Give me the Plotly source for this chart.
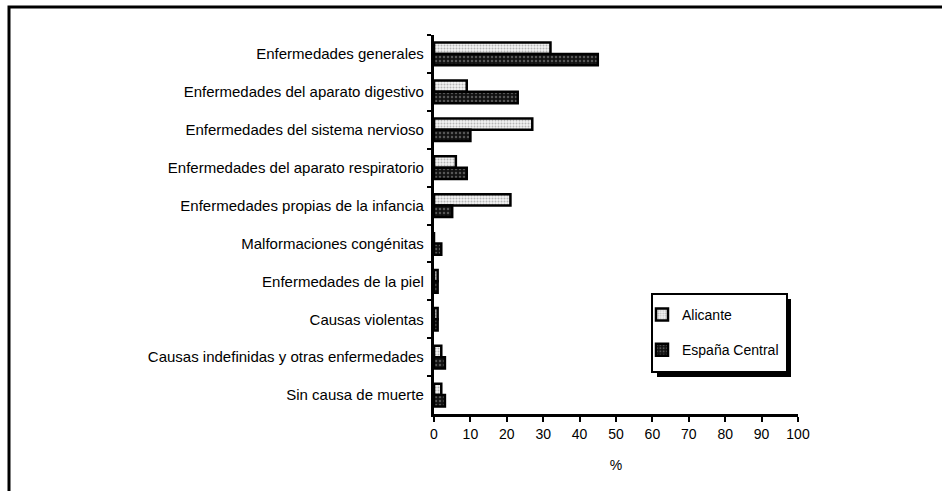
import plotly.graph_objects as go

categories = [
    "Enfermedades generales",
    "Enfermedades del aparato digestivo",
    "Enfermedades del sistema nervioso",
    "Enfermedades del aparato respiratorio",
    "Enfermedades propias de la infancia",
    "Malformaciones congénitas",
    "Enfermedades de la piel",
    "Causas violentas",
    "Causas indefinidas y otras enfermedades",
    "Sin causa de muerte",
]
alicante = [32, 9, 27, 6, 21, 0, 1, 1, 2, 2]
espana_central = [45, 23, 10, 9, 5, 2, 1, 1, 3, 3]
x_ticks = [0, 10, 20, 30, 40, 50, 60, 70, 80, 90, 100]

W, H = 942, 491
L, R, T, B = 434, 798, 35, 414

def px(x):
    return (x - L) / (R - L)

def py(y):
    return (B - y) / (B - T)

FONT = "Arial, 'Liberation Sans', sans-serif"

fig = go.Figure()
fig.add_trace(go.Bar(
    y=categories, x=alicante, orientation="h", name="Alicante",
    legendgroup="a",
    marker=dict(color="white", line=dict(color="black", width=2.5),
                pattern=dict(shape=".", fgcolor="#777777", bgcolor="#f2f2f2",
                             size=3, solidity=0.35)),
))
fig.add_trace(go.Bar(
    y=categories, x=espana_central, orientation="h", name="España Central",
    legendgroup="b",
    marker=dict(color="black", line=dict(color="black", width=2.5),
                pattern=dict(shape=".", fgcolor="#9a9a9a", bgcolor="#111111",
                             size=4, solidity=0.3)),
))

shapes = [
    # outer frame
    dict(type="rect", xref="paper", yref="paper",
         x0=px(9), x1=px(980), y0=py(540), y1=py(7),
         line=dict(color="black", width=3), fillcolor="rgba(0,0,0,0)", layer="below"),
    # legend shadow
    dict(type="rect", xref="paper", yref="paper",
         x0=px(657), x1=px(791), y0=py(377), y1=py(299),
         line=dict(color="black", width=0), fillcolor="black", layer="above"),
    # legend box
    dict(type="rect", xref="paper", yref="paper",
         x0=px(652), x1=px(787), y0=py(372), y1=py(294),
         line=dict(color="black", width=2), fillcolor="white", layer="above"),
]

fig.update_layout(
    width=W, height=H,
    margin=dict(l=L, r=W - R, t=T, b=H - B),
    paper_bgcolor="white", plot_bgcolor="white",
    barmode="group", bargap=0.4, bargroupgap=0,
    font=dict(family=FONT, size=14, color="black"),
    showlegend=True,
    legend=dict(x=px(642), y=py(299), xanchor="left", yanchor="top",
                bgcolor="rgba(0,0,0,0)", borderwidth=0,
                traceorder="grouped", tracegroupgap=14,
                itemwidth=30, font=dict(family=FONT, size=14)),
    shapes=shapes,
    xaxis=dict(range=[0, 100], tickvals=x_ticks, ticktext=[str(v) for v in x_ticks],
               showgrid=False, zeroline=False, showline=True, linecolor="black",
               linewidth=3, ticks="outside", ticklen=5, tickwidth=2, tickcolor="black",
               tickfont=dict(size=14),
               title=dict(text="%", standoff=20, font=dict(size=14))),
    yaxis=dict(autorange="reversed", showgrid=False, showline=True, linecolor="black",
               linewidth=3, ticks="outside", ticklen=4, tickwidth=2, tickcolor="black",
               tickson="boundaries", ticksuffix=" ", tickfont=dict(size=15)),
)

fig.write_html("out.html", config={"displayModeBar": False},
               post_script="document.body.style.margin='0px';document.body.style.overflow='hidden';")
